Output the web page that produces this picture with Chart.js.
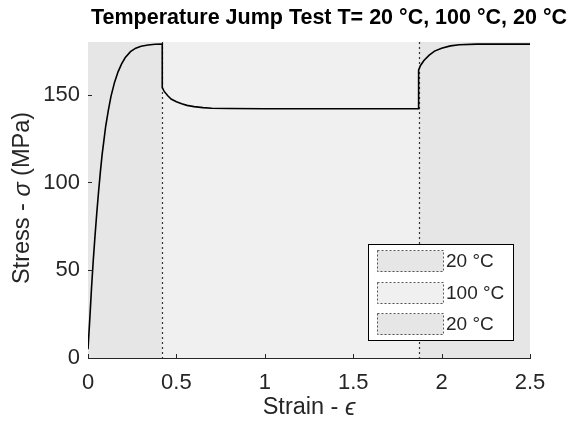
<!DOCTYPE html>
<html>
<head>
<meta charset="utf-8">
<script src="https://cdn.jsdelivr.net/npm/chart.js@4/dist/chart.umd.min.js"></script>
<style>
  html, body { margin: 0; padding: 0; background: #fff; }
  #wrap { width: 573px; height: 421px; position: relative; }
</style>
</head>
<body>
<div id="wrap"><canvas id="chart"></canvas></div>
<script>
// stress-strain response, read in order along the curve
const strain = [
  0, 0.01, 0.02, 0.03, 0.04, 0.05, 0.06, 0.07, 0.08, 0.09, 0.10, 0.115, 0.13,
  0.15, 0.17, 0.19, 0.21, 0.24, 0.27, 0.30, 0.34, 0.38, 0.42,
  0.42, 0.43, 0.45, 0.47, 0.50, 0.53, 0.56, 0.60, 0.65, 0.70, 0.80, 1.00, 1.87,
  1.87, 1.88, 1.90, 1.93, 1.96, 2.00, 2.05, 2.10, 2.20, 2.50
];
const stress = [
  5, 22, 40, 56, 70, 83, 95, 106, 116, 124, 132, 141, 149,
  157, 163, 167.5, 171, 174.5, 176.5, 177.6, 178.3, 178.7, 178.8,
  154, 152, 149.5, 147.5, 146, 144.8, 143.9, 143.2, 142.6, 142.3, 142.1, 142, 142,
  164, 166.5, 169.5, 172.5, 174.8, 176.5, 177.8, 178.4, 178.8, 178.8
];

// temperature phases along the strain axis
const phaseEdges = [0, 0.42, 1.87, 2.5];
const phaseLabels = ['20 °C', '100 °C', '20 °C'];
const phaseFills = ['#e6e6e6', '#f0f0f0', '#e6e6e6'];

const xTicks = [0, 0.5, 1, 1.5, 2, 2.5];
const yTicks = [0, 50, 100, 150];

const FONT = 'Arial, "Liberation Sans", Helvetica, sans-serif';
const AXIS_COL = '#262626';

// draw a run of [text, italic] pieces centred on (x, y)
function richText(ctx, parts, x, y, size) {
  const fontOf = it => (it ? 'italic ' : '') + size + 'px ' + FONT;
  let total = 0;
  parts.forEach(([t, it]) => { ctx.font = fontOf(it); total += ctx.measureText(t).width; });
  let cx = x - total / 2;
  ctx.textAlign = 'left';
  parts.forEach(([t, it]) => {
    ctx.font = fontOf(it);
    ctx.fillText(t, cx, y);
    cx += ctx.measureText(t).width;
  });
}

const phasePlugin = {
  id: 'phases',
  beforeDatasetsDraw(chart) {
    const { ctx, chartArea: a, scales: { x } } = chart;
    ctx.save();
    for (let i = 0; i < phaseLabels.length; i++) {
      const x0 = x.getPixelForValue(phaseEdges[i]);
      const x1 = x.getPixelForValue(phaseEdges[i + 1]);
      ctx.fillStyle = phaseFills[i];
      ctx.fillRect(x0, a.top, x1 - x0, a.bottom - a.top);
    }
    ctx.strokeStyle = '#333';
    ctx.lineWidth = 1.2;
    ctx.setLineDash([2, 3]);
    for (let i = 1; i < phaseEdges.length - 1; i++) {
      const px = Math.round(x.getPixelForValue(phaseEdges[i])) + 0.5;
      ctx.beginPath();
      ctx.moveTo(px, a.top);
      ctx.lineTo(px, a.bottom);
      ctx.stroke();
    }
    ctx.restore();
  },
  afterDraw(chart) {
    const { ctx, chartArea: a, scales: { x, y } } = chart;
    ctx.save();
    // inward tick marks, MATLAB style
    ctx.strokeStyle = AXIS_COL;
    ctx.lineWidth = 1;
    xTicks.forEach(v => {
      const px = Math.round(x.getPixelForValue(v)) + 0.5;
      ctx.beginPath();
      ctx.moveTo(px, a.bottom);
      ctx.lineTo(px, a.bottom - 4);
      ctx.stroke();
    });
    yTicks.forEach(v => {
      const py = Math.round(y.getPixelForValue(v)) + 0.5;
      ctx.beginPath();
      ctx.moveTo(a.left, py);
      ctx.lineTo(a.left + 4, py);
      ctx.stroke();
    });

    // title
    ctx.fillStyle = '#000';
    ctx.font = 'bold 21.5px ' + FONT;
    ctx.textAlign = 'center';
    ctx.textBaseline = 'middle';
    ctx.fillText('Temperature Jump Test T= 20 °C, 100 °C, 20 °C', 329, 18);

    // axis titles
    ctx.fillStyle = AXIS_COL;
    richText(ctx, [['Strain - ', false], ['ϵ', true]], (a.left + a.right) / 2, 408, 23.5);
    ctx.save();
    ctx.translate(23, 198);
    ctx.rotate(-Math.PI / 2);
    richText(ctx, [['Stress - ', false], ['σ', true], [' (MPa)', false]], 0, 0, 23.5);
    ctx.restore();

    // legend
    const lx = 368.5, ly = 244.5, lw = 145, lh = 96;
    ctx.fillStyle = '#fff';
    ctx.fillRect(lx, ly, lw, lh);
    ctx.strokeStyle = '#000';
    ctx.lineWidth = 1;
    ctx.strokeRect(lx, ly, lw, lh);
    const rowY = [261, 293, 324];
    ctx.font = '19px ' + FONT;
    ctx.textAlign = 'left';
    phaseLabels.forEach((lab, i) => {
      const py = rowY[i];
      ctx.fillStyle = phaseFills[i];
      ctx.fillRect(377, py - 10, 66, 21);
      ctx.strokeStyle = '#555';
      ctx.setLineDash([2, 2]);
      ctx.strokeRect(377.5, py - 10.5, 66, 21);
      ctx.setLineDash([]);
      ctx.fillStyle = AXIS_COL;
      ctx.fillText(lab, 446, py + 1);
    });
    ctx.restore();
  }
};

new Chart(document.getElementById('chart'), {
  type: 'scatter',
  data: {
    datasets: [{
      data: strain.map((s, i) => ({ x: s, y: stress[i] })),
      showLine: true,
      borderColor: '#000',
      borderWidth: 1.6,
      pointRadius: 0,
      tension: 0,
      fill: false
    }]
  },
  options: {
    responsive: true,
    maintainAspectRatio: false,
    animation: false,
    layout: { padding: { left: 0, right: 43, top: 42, bottom: 0 } },
    plugins: { legend: { display: false }, tooltip: { enabled: false } },
    scales: {
      x: {
        type: 'linear',
        min: 0, max: 2.5,
        afterBuildTicks: s => { s.ticks = xTicks.map(v => ({ value: v })); },
        afterFit: s => { s.height = 63; },
        grid: { display: false, drawTicks: false },
        border: { display: true, color: AXIS_COL, width: 1 },
        ticks: {
          color: AXIS_COL, padding: 12,
          maxRotation: 0,
          font: { family: FONT, size: 22 },
          callback: v => String(v)
        }
      },
      y: {
        type: 'linear',
        min: 0, max: 180,
        afterBuildTicks: s => { s.ticks = yTicks.map(v => ({ value: v })); },
        afterFit: s => { s.width = 88; },
        grid: { display: false, drawTicks: false },
        border: { display: true, color: AXIS_COL, width: 1 },
        ticks: {
          color: AXIS_COL, padding: 8,
          font: { family: FONT, size: 22 },
          callback: v => String(v)
        }
      }
    }
  },
  plugins: [phasePlugin]
});
</script>
</body>
</html>
